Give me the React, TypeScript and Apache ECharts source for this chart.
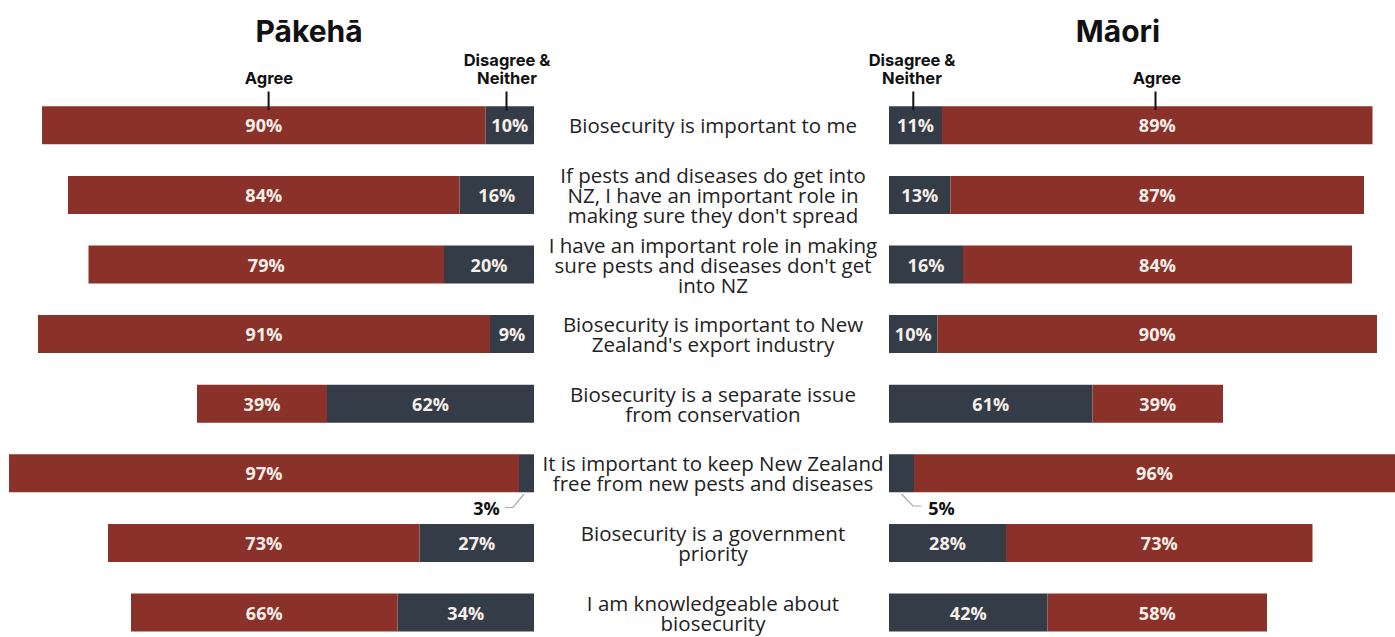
import React, { useEffect, useRef } from "react";
import * as echarts from "echarts";

// Statements (middle labels)
const categories: string[] = [
  "Biosecurity is important to me",
  "If pests and diseases do get into\nNZ, I have an important role in\nmaking sure they don't spread",
  "I have an important role in making\nsure pests and diseases don't get\ninto NZ",
  "Biosecurity is important to New\nZealand's export industry",
  "Biosecurity is a separate issue\nfrom conservation",
  "It is important to keep New Zealand\nfree from new pests and diseases",
  "Biosecurity is a government\npriority",
  "I am knowledgeable about\nbiosecurity",
];

// Printed percentages
const pakehaAgreePct: number[] = [90, 84, 79, 91, 39, 97, 73, 66];
const pakehaDisagreePct: number[] = [10, 16, 20, 9, 62, 3, 27, 34];
const maoriAgreePct: number[] = [89, 87, 84, 90, 39, 96, 73, 58];
const maoriDisagreePct: number[] = [11, 13, 16, 10, 61, 5, 28, 42];

// Drawn bar lengths (chart units)
const pakehaAgreeLen: number[] = [88.7, 78.3, 71.1, 90.4, 26.0, 102.0, 62.3, 53.3];
const pakehaDisagreeLen: number[] = [9.7, 14.9, 18.0, 8.8, 41.4, 3.0, 22.9, 27.3];
const maoriDisagreeLen: number[] = [10.6, 12.3, 14.8, 9.7, 40.7, 5.0, 23.4, 31.7];
const maoriAgreeLen: number[] = [86.1, 82.7, 77.8, 87.9, 26.1, 101.0, 61.3, 43.9];

const titles: string[] = ["Pākehā", "Māori"];
const legendAgree = "Agree";
const legendDisagree = "Disagree &\nNeither";

const RED = "#8a3229";
const DARK = "#343d47";
const LABEL_FONT = "'Open Sans', 'Noto Sans', sans-serif";
const HEAD_FONT = "Inter, 'Noto Sans', sans-serif";

function makeSeries(
  name: string,
  lens: number[],
  pcts: number[],
  axisIndex: number,
  color: string,
  calloutDir: number
) {
  return {
    name,
    type: "bar",
    stack: "s" + axisIndex,
    xAxisIndex: axisIndex,
    yAxisIndex: axisIndex,
    barWidth: 38,
    itemStyle: { color },
    label: {
      show: true,
      position: "inside",
      color: "#f7efea",
      fontSize: 18,
      fontWeight: "bold",
      fontFamily: LABEL_FONT,
      formatter: (p: any) => pcts[p.dataIndex] + "%",
    },
    data: lens.map((v) =>
      v < 6
        ? {
            value: v,
            label: {
              position: "bottom",
              distance: 7,
              offset: [calloutDir * 40, 0],
              color: "#111",
            },
          }
        : v
    ),
  };
}

export default function App() {
  const ref = useRef<HTMLDivElement>(null);

  useEffect(() => {
    if (!ref.current) return;
    const chart = echarts.init(ref.current, null, { renderer: "svg" });

    const headText = (text: string, x: number, y: number, size: number, lh: number) => ({
      type: "text",
      x,
      y,
      z: 100,
      style: {
        text,
        fill: "#111",
        fontSize: size,
        fontWeight: "bold",
        fontFamily: HEAD_FONT,
        align: "center",
        verticalAlign: "middle",
        lineHeight: lh,
      },
    });
    const tick = (x: number, y1: number, y2: number) => ({
      type: "line",
      z: 100,
      shape: { x1: x, y1, x2: x, y2 },
      style: { stroke: "#111", lineWidth: 2 },
    });

    chart.setOption({
      animation: false,
      grid: [
        { left: 0, top: 90.5, width: 534, height: 556.8 },
        { left: 889, top: 90.5, width: 506, height: 556.8 },
      ],
      xAxis: [
        { gridIndex: 0, type: "value", inverse: true, min: 0, max: 106.8, show: false },
        { gridIndex: 1, type: "value", min: 0, max: 101.2, show: false },
      ],
      yAxis: [
        {
          gridIndex: 0,
          type: "category",
          inverse: true,
          data: categories,
          position: "right",
          axisLine: { show: false },
          axisTick: { show: false },
          axisLabel: {
            interval: 0,
            margin: 179,
            align: "center",
            verticalAlign: "middle",
            fontSize: 20.5,
            lineHeight: 20,
            color: "#222",
            fontFamily: LABEL_FONT,
          },
        },
        { gridIndex: 1, type: "category", inverse: true, data: categories, show: false },
      ],
      series: [
        makeSeries("Pākehā Disagree & Neither", pakehaDisagreeLen, pakehaDisagreePct, 0, DARK, -1),
        makeSeries("Pākehā Agree", pakehaAgreeLen, pakehaAgreePct, 0, RED, -1),
        makeSeries("Māori Disagree & Neither", maoriDisagreeLen, maoriDisagreePct, 1, DARK, 1),
        makeSeries("Māori Agree", maoriAgreeLen, maoriAgreePct, 1, RED, 1),
      ],
      graphic: [
        headText(titles[0], 309, 31, 30, 30),
        headText(titles[1], 1118, 31, 30, 30),
        headText(legendAgree, 269, 78, 16.5, 18),
        headText(legendDisagree, 507, 69, 16.5, 18),
        headText(legendDisagree, 912, 69, 16.5, 18),
        headText(legendAgree, 1157, 78, 16.5, 18),
        tick(268.6, 91.5, 110),
        tick(506.5, 91.5, 111),
        tick(913.3, 91.5, 110),
        tick(1155.5, 91.5, 110),
        {
          type: "polyline",
          z: 100,
          shape: { points: [[524, 494], [513, 507.5], [505, 507.5]] },
          style: { stroke: "#a9a9a9", lineWidth: 1.2, fill: "none" },
        },
        {
          type: "polyline",
          z: 100,
          shape: { points: [[901.5, 494], [913, 506], [921.5, 506]] },
          style: { stroke: "#a9a9a9", lineWidth: 1.2, fill: "none" },
        },
      ],
    });

    return () => chart.dispose();
  }, []);

  return (
    <div
      ref={ref}
      style={{ position: "absolute", left: 0, top: 0, width: 1395, height: 700, background: "#fff" }}
    />
  );
}
